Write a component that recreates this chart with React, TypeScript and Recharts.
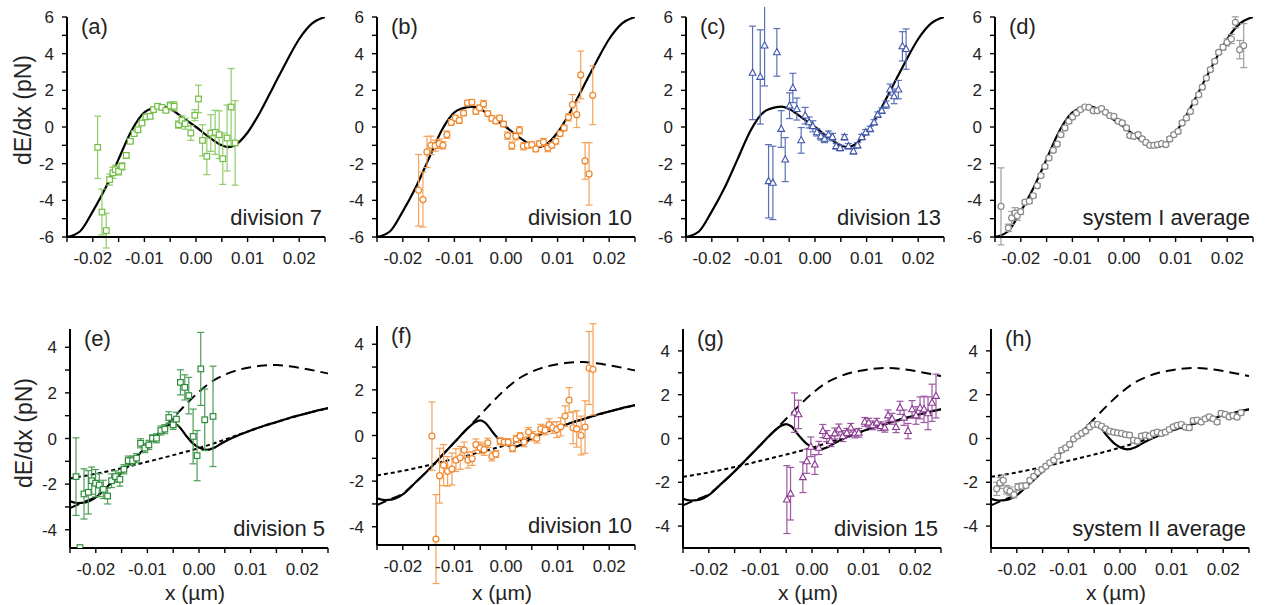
import { ComposedChart, Line, Scatter, XAxis, YAxis, ErrorBar } from 'recharts'

type Pt = [number, number, number]
type Cv = [number, number]

const FONT = '"Liberation Sans", Arial, Helvetica, sans-serif'

const xTicks = [-0.025, -0.02, -0.015, -0.01, -0.005, 0, 0.005, 0.01, 0.015, 0.02, 0.025]
const yTicksTop = [-6, -5, -4, -3, -2, -1, 0, 1, 2, 3, 4, 5, 6]
const yTicksBottom = [-4, -3, -2, -1, 0, 1, 2, 3, 4]

// model curves
const fitTop: Cv[] = [
  [-0.025, -6.0], [-0.0225, -5.7], [-0.02, -4.6], [-0.0175, -3.3], [-0.015, -1.75],
  [-0.0125, -0.2], [-0.01, 0.8], [-0.0075, 1.08], [-0.0066, 1.11], [-0.005, 0.98],
  [-0.0025, 0.5], [0, 0], [0.0025, -0.55], [0.005, -1.0], [0.0063, -1.1], [0.0075, -1.0],
  [0.01, -0.3], [0.0125, 0.85], [0.015, 2.2], [0.0175, 3.55], [0.02, 4.8], [0.0225, 5.65],
  [0.025, 6.0],
]

const fitBottom: Cv[] = [
  [-0.025, -2.75], [-0.0235, -2.83], [-0.022, -2.8], [-0.02, -2.58], [-0.0175, -2.05],
  [-0.015, -1.5], [-0.0125, -0.9], [-0.01, -0.3], [-0.0075, 0.3], [-0.006, 0.58],
  [-0.005, 0.66], [-0.004, 0.55], [-0.0025, 0.12], [-0.001, -0.25], [0, -0.4],
  [0.0015, -0.5], [0.003, -0.4], [0.0045, -0.2], [0.0065, 0.03], [0.01, 0.35],
  [0.0125, 0.55], [0.015, 0.72], [0.0175, 0.9], [0.02, 1.05], [0.0225, 1.2], [0.025, 1.33],
]

const longDash: Cv[] = [
  [-0.025, -3.05], [-0.0225, -2.8], [-0.02, -2.55], [-0.0175, -2.05], [-0.015, -1.5],
  [-0.0125, -0.9], [-0.01, -0.3], [-0.0075, 0.3], [-0.005, 0.9], [-0.0025, 1.5], [0, 2.05],
  [0.0025, 2.5], [0.005, 2.8], [0.0075, 3.0], [0.01, 3.12], [0.0125, 3.2], [0.015, 3.22],
  [0.0175, 3.17], [0.02, 3.08], [0.0225, 2.97], [0.025, 2.85],
]

const shortDash: Cv[] = [
  [-0.025, -1.75], [-0.02, -1.55], [-0.015, -1.3], [-0.01, -1.02], [-0.005, -0.73], [0, -0.42],
  [0.005, -0.05], [0.01, 0.35], [0.015, 0.72], [0.02, 1.05], [0.025, 1.33],
]

// measured points: [x, dE/dx, error]
const div7: Pt[] = [
  [-0.01906, -1.11, 1.7], [-0.01823, -4.64, 1.25], [-0.01739, -5.65, 0.95], [-0.01674, -2.87, 0.3],
  [-0.0161, -2.5, 0.3], [-0.01565, -2.33, 0.25], [-0.015, -2.42, 0.2], [-0.01435, -2.15, 0.2],
  [-0.01352, -1.55, 0.15], [-0.01274, -0.78, 0.1], [-0.01197, -0.36, 0.1], [-0.01126, -0.15, 0.1],
  [-0.01048, 0.22, 0.1], [-0.00971, 0.55, 0.1], [-0.0089, 0.58, 0.1], [-0.00823, 0.95, 0.1],
  [-0.00745, 1.13, 0.1], [-0.00661, 1.07, 0.1], [-0.00584, 0.91, 0.1], [-0.005, 1.16, 0.2],
  [-0.00423, 1.13, 0.25], [-0.00339, 0.13, 0.2], [-0.00274, 0.36, 0.25], [-0.0021, 0.18, 0.3],
  [-0.001, -0.33, 0.4], [-0.00023, 0.64, 0.3], [0.00048, 1.53, 0.75], [0.00126, -0.73, 0.85],
  [0.0021, -1.6, 1.0], [0.00287, -0.33, 1.0], [0.00371, -0.29, 1.2], [0.00448, -0.42, 1.3],
  [0.00519, -1.73, 1.4], [0.00603, -0.6, 1.8], [0.00681, 1.09, 2.1], [0.00758, -0.87, 2.3],
]

const div10a: Pt[] = [
  [-0.01694, -3.45, 1.95], [-0.0161, -3.96, 1.5], [-0.01532, -1.36, 0.85], [-0.01455, -1.0, 0.5],
  [-0.01371, -1.02, 0.3], [-0.01294, -0.91, 0.25], [-0.01223, -1.0, 0.2], [-0.01145, -0.42, 0.2],
  [-0.01061, 0.25, 0.15], [-0.00984, 0.49, 0.15], [-0.00906, 0.36, 0.15], [-0.00823, 0.76, 0.15],
  [-0.00745, 1.31, 0.15], [-0.00661, 1.35, 0.15], [-0.00584, 0.85, 0.15], [-0.00513, 1.04, 0.15],
  [-0.00435, 1.25, 0.2], [-0.00352, 0.73, 0.15], [-0.00274, 0.47, 0.15], [-0.00197, 0.33, 0.15],
  [-0.00126, 0.49, 0.15], [-0.00048, 0.16, 0.15], [0.0003, -0.47, 0.2], [0.00113, -1.02, 0.2],
  [0.0019, -0.51, 0.2], [0.00261, -0.18, 0.2], [0.00339, -1.05, 0.2], [0.00416, -1.0, 0.15],
  [0.005, -0.96, 0.15], [0.00577, -1.2, 0.15], [0.00648, -0.91, 0.15], [0.00726, -0.82, 0.2],
  [0.0081, -1.15, 0.2], [0.00887, -1.0, 0.15], [0.00965, -0.78, 0.15], [0.01048, -0.36, 0.15],
  [0.01126, -0.05, 0.15], [0.0121, 0.53, 0.2], [0.01287, 1.22, 0.55], [0.01371, 0.67, 0.7],
  [0.01448, 2.84, 1.3], [0.01532, -1.85, 1.0], [0.0161, -2.56, 1.7], [0.01681, 1.73, 1.6],
]

const div13: Pt[] = [
  [-0.0121, 2.95, 2.55], [-0.01061, 2.73, 2.57], [-0.00977, 4.44, 2.2], [-0.009, -2.96, 2.0],
  [-0.00816, -3.05, 2.0], [-0.00739, 4.07, 1.3], [-0.00655, -0.11, 1.0], [-0.00577, -1.78, 1.2],
  [-0.00494, 1.16, 0.7], [-0.00429, 2.13, 0.8], [-0.00352, 0.98, 0.6], [-0.00268, -0.73, 0.7],
  [-0.0019, 0.62, 0.45], [-0.00113, 0.25, 0.3], [-0.00042, 0.04, 0.3], [0.00035, -0.29, 0.2],
  [0.00113, -0.51, 0.2], [0.00184, -0.65, 0.2], [0.00261, -0.42, 0.2], [0.00339, -0.55, 0.2],
  [0.0041, -1.05, 0.15], [0.00487, -1.15, 0.15], [0.00571, -0.56, 0.15], [0.00648, -1.05, 0.15],
  [0.00745, -1.33, 0.15], [0.00823, -1.0, 0.15], [0.00906, -0.55, 0.15], [0.00984, -0.29, 0.15],
  [0.01068, -0.11, 0.15], [0.01145, 0.25, 0.15], [0.01216, 0.67, 0.15], [0.01294, 0.89, 0.15],
  [0.01377, 1.22, 0.2], [0.01455, 2.04, 0.3], [0.01532, 1.67, 0.4], [0.01616, 2.04, 0.5],
  [0.01694, 4.4, 0.8], [0.01765, 4.25, 1.1],
]

const sys1: Pt[] = [
  [-0.02384, -4.33, 2.1], [-0.02242, -5.5, 0.2], [-0.02177, -4.96, 0.35], [-0.02113, -4.7, 0.3],
  [-0.02068, -4.84, 0.25], [-0.02003, -4.62, 0.15], [-0.01919, -4.1, 0.1], [-0.01835, -4.05, 0.1],
  [-0.01758, -3.75, 0.1], [-0.0168, -3.2, 0.1], [-0.0161, -2.65, 0.1], [-0.01532, -2.15, 0.1],
  [-0.01455, -1.69, 0.1], [-0.01371, -1.27, 0.1], [-0.01294, -0.93, 0.1], [-0.01223, -0.42, 0.1],
  [-0.01145, -0.05, 0.1], [-0.01068, 0.31, 0.1], [-0.00997, 0.55, 0.1], [-0.0092, 0.76, 0.1],
  [-0.00842, 0.95, 0.1], [-0.00758, 1.09, 0.1], [-0.00681, 1.07, 0.1], [-0.00597, 0.89, 0.1],
  [-0.0052, 0.89, 0.1], [-0.00435, 1.0, 0.1], [-0.00358, 0.8, 0.1], [-0.00274, 0.62, 0.1],
  [-0.00197, 0.58, 0.1], [-0.00113, 0.31, 0.1], [-0.00035, 0.22, 0.1], [0.00048, -0.05, 0.1],
  [0.00113, -0.47, 0.1], [0.0019, -0.51, 0.1], [0.00274, -0.42, 0.1], [0.00352, -0.65, 0.1],
  [0.00423, -0.84, 0.1], [0.005, -1.0, 0.1], [0.00577, -1.0, 0.1], [0.00648, -0.96, 0.1],
  [0.00726, -0.91, 0.1], [0.0081, -0.96, 0.1], [0.00887, -0.65, 0.1], [0.00965, -0.42, 0.1],
  [0.01048, -0.24, 0.1], [0.01126, 0.22, 0.1], [0.0121, 0.49, 0.1], [0.01287, 0.85, 0.1],
  [0.01371, 1.35, 0.1], [0.01448, 1.76, 0.1], [0.01519, 2.18, 0.1], [0.01597, 2.67, 0.1],
  [0.01674, 3.13, 0.1], [0.01758, 3.58, 0.1], [0.01835, 4.07, 0.1], [0.01919, 4.35, 0.15],
  [0.01997, 4.62, 0.2], [0.0208, 4.8, 0.25], [0.02158, 5.71, 0.3], [0.02242, 4.22, 0.5],
  [0.0232, 4.44, 1.2],
]

const div5: Pt[] = [
  [-0.02384, -1.67, 1.7], [-0.02307, -4.78, 0], [-0.02229, -2.43, 1.1], [-0.02145, -2.36, 0.95],
  [-0.0208, -1.85, 0.6], [-0.02004, -1.96, 0.6], [-0.01933, -2.04, 0.5], [-0.01855, -2.23, 0.4],
  [-0.01771, -2.52, 0.35], [-0.01694, -1.85, 0.3], [-0.01617, -1.67, 0.25], [-0.01533, -1.79, 0.3],
  [-0.01455, -1.35, 0.2], [-0.01372, -0.97, 0.2], [-0.01288, -0.97, 0.2], [-0.0121, -0.86, 0.2],
  [-0.01133, -0.21, 0.2], [-0.01049, -0.42, 0.2], [-0.00972, -0.28, 0.2], [-0.00901, 0.01, 0.15],
  [-0.00824, 0.01, 0.2], [-0.0074, 0.35, 0.2], [-0.00662, 0.41, 0.2], [-0.00585, 0.92, 0.25],
  [-0.00501, 0.6, 0.2], [-0.00437, 0.85, 0.3], [-0.0036, 2.46, 0.55], [-0.00276, 2.24, 0.55],
  [-0.00198, 1.88, 0.8], [-0.00114, 0.09, 1.2], [-0.00037, -0.75, 1.1], [0.00034, 3.05, 1.6],
  [0.00111, 0.82, 1.35], [0.00272, 0.97, 2.2],
]

const div10b: Pt[] = [
  [-0.01435, -0.03, 1.5], [-0.01358, -4.54, 1.95], [-0.01287, -1.76, 1.2], [-0.0121, -1.3, 0.9],
  [-0.01132, -1.57, 0.65], [-0.01048, -1.47, 0.7], [-0.00971, -1.08, 0.5], [-0.00887, -0.98, 0.5],
  [-0.0081, -0.64, 0.35], [-0.00739, -1.08, 0.35], [-0.00655, -1.01, 0.3], [-0.00584, -0.4, 0.25],
  [-0.005, -0.54, 0.25], [-0.00423, -0.62, 0.25], [-0.00352, -0.32, 0.2], [-0.00274, -0.91, 0.2],
  [-0.00197, -0.81, 0.15], [-0.00113, -0.25, 0.15], [-0.00035, -0.29, 0.15], [0.00042, -0.29, 0.15],
  [0.00126, -0.56, 0.15], [0.00197, -0.15, 0.15], [0.00274, -0.03, 0.15], [0.00352, -0.29, 0.2],
  [0.00435, 0.15, 0.2], [0.00519, -0.03, 0.2], [0.00597, -0.13, 0.2], [0.00674, 0.29, 0.2],
  [0.00758, 0.23, 0.2], [0.00835, 0.48, 0.25], [0.00906, 0.34, 0.25], [0.00984, 0.26, 0.35],
  [0.01061, 0.38, 0.4], [0.01145, 0.85, 0.45], [0.01223, 1.55, 0.55], [0.013, 0.34, 0.7],
  [0.01371, 0.29, 0.8], [0.01455, 0.0, 0.85], [0.01532, 0.37, 1.15], [0.0161, 2.96, 1.6],
  [0.01687, 2.9, 2.0],
]

const div15: Pt[] = [
  [-0.00487, -2.79, 1.55], [-0.00416, -2.52, 1.2], [-0.00339, 1.18, 0.9], [-0.00261, 1.1, 0.65],
  [-0.00177, -1.77, 0.7], [-0.001, -1.04, 0.55], [-0.00023, -0.38, 0.45], [0.00055, -1.19, 0.45],
  [0.00132, -0.43, 0.3], [0.0021, 0.34, 0.3], [0.00287, 0.11, 0.25], [0.00365, -0.12, 0.25],
  [0.00442, 0.23, 0.25], [0.0052, 0.41, 0.25], [0.00597, 0.11, 0.25], [0.00674, 0.26, 0.2],
  [0.00752, 0.49, 0.2], [0.00829, 0.23, 0.2], [0.00906, 0.26, 0.2], [0.01023, 0.76, 0.2],
  [0.011, 0.72, 0.2], [0.01177, 0.6, 0.2], [0.01255, 0.72, 0.2], [0.01332, 0.56, 0.2],
  [0.0141, 0.49, 0.2], [0.01474, 1.05, 0.25], [0.01552, 0.9, 0.25], [0.01629, 0.52, 0.25],
  [0.01706, 1.4, 0.3], [0.01784, 0.95, 0.35], [0.01861, 0.34, 0.35], [0.01939, 1.33, 0.4],
  [0.02016, 1.05, 0.4], [0.02094, 1.4, 0.5], [0.02171, 1.33, 0.6], [0.02248, 1.15, 0.75],
  [0.02326, 1.63, 0.85], [0.02403, 1.94, 1.0],
]

const sys2: Pt[] = [
  [-0.0239, -2.3, 0.3], [-0.02326, -2.03, 0.25], [-0.02262, -1.91, 0.25], [-0.02198, -2.34, 0.2],
  [-0.02133, -2.41, 0.2], [-0.02056, -2.56, 0.15], [-0.01979, -2.21, 0.15], [-0.01902, -2.18, 0.15],
  [-0.01824, -2.15, 0.1], [-0.01747, -1.91, 0.1], [-0.0167, -1.73, 0.1], [-0.01593, -1.54, 0.1],
  [-0.01515, -1.42, 0.1], [-0.01438, -1.27, 0.1], [-0.01361, -1.11, 0.1], [-0.01284, -0.99, 0.1],
  [-0.01207, -0.81, 0.1], [-0.01129, -0.53, 0.1], [-0.01052, -0.43, 0.1], [-0.00975, -0.27, 0.1],
  [-0.00898, -0.02, 0.1], [-0.0082, 0.11, 0.1], [-0.00743, 0.23, 0.1], [-0.00666, 0.34, 0.1],
  [-0.00589, 0.53, 0.1], [-0.00512, 0.64, 0.1], [-0.00434, 0.64, 0.1], [-0.00357, 0.56, 0.1],
  [-0.0028, 0.44, 0.1], [-0.00203, 0.34, 0.1], [-0.00125, 0.29, 0.1], [-0.00048, 0.26, 0.1],
  [0.00029, 0.23, 0.1], [0.00106, 0.18, 0.1], [0.00184, 0.15, 0.1], [0.00261, -0.08, 0.1],
  [0.00338, -0.12, 0.1], [0.00415, 0.11, 0.1], [0.00492, 0.15, 0.1], [0.0057, 0.11, 0.1],
  [0.00647, 0.23, 0.1], [0.00724, 0.29, 0.1], [0.00801, 0.23, 0.1], [0.00878, 0.29, 0.1],
  [0.00956, 0.41, 0.1], [0.01033, 0.53, 0.1], [0.0111, 0.6, 0.1], [0.01187, 0.64, 0.1],
  [0.01264, 0.52, 0.1], [0.01342, 0.49, 0.1], [0.01419, 0.82, 0.1], [0.01496, 0.84, 0.1],
  [0.01573, 0.75, 0.1], [0.0165, 0.9, 0.1], [0.01728, 0.99, 0.1], [0.01805, 0.9, 0.1],
  [0.01882, 0.75, 0.1], [0.01959, 1.15, 0.1], [0.02037, 1.1, 0.1], [0.02114, 0.99, 0.1],
  [0.02191, 1.05, 0.1], [0.02268, 0.98, 0.1], [0.02346, 1.18, 0.1],
]

const toPts = (rows: Pt[]) => rows.map(([x, y, e]) => ({ x, y, e }))
const toCurve = (rows: Cv[]) => rows.map(([x, y]) => ({ x, y }))

const fmtX = (v: number) => {
  const k = Math.round(v * 1000)
  if (k % 10 !== 0 || Math.abs(k) > 20) return ''
  return (k / 1000).toFixed(2)
}
const fmtY = (v: number) => (v % 2 === 0 ? String(v) : '')

type Kind = 'square' | 'circle' | 'triangle'

function Marker({ cx, cy, kind, color }: { cx: number; cy: number; kind: Kind; color: string }) {
  if (cx == null || cy == null) return null
  if (kind === 'square')
    return <rect x={cx - 2.8} y={cy - 2.8} width={5.6} height={5.6} fill="#fff" stroke={color} strokeWidth={1.2} />
  if (kind === 'triangle')
    return (
      <path
        d={`M${cx},${cy - 3.8}L${cx + 3.4},${cy + 2.4}L${cx - 3.4},${cy + 2.4}Z`}
        fill="#fff"
        stroke={color}
        strokeWidth={1.1}
      />
    )
  return <circle cx={cx} cy={cy} r={3} fill="#fff" stroke={color} strokeWidth={1.2} />
}

interface PanelProps {
  left: number
  top: number
  h: number
  bottomRow: boolean
  domain: [number, number]
  points: Pt[]
  kind: Kind
  color: string
  errColor: string
}

const PW = 258

function Panel({ left, top, h, bottomRow, domain, points, kind, color, errColor }: PanelProps) {
  const tickStyle = { fill: '#222', fontSize: 17, fontFamily: FONT }
  const axisLine = { stroke: '#000', strokeWidth: 2 }
  const tickLine = { stroke: '#000', strokeWidth: 1.4 }
  return (
    <div style={{ position: 'absolute', left: left - 60, top: top - 10 }}>
      <ComposedChart
        width={60 + PW + 10}
        height={10 + h + 40}
        margin={{ top: 10, right: 10, bottom: 0, left: 0 }}
      >
        <XAxis
          dataKey="x"
          type="number"
          domain={[-0.025, 0.025]}
          ticks={xTicks}
          interval={0}
          tickFormatter={fmtX}
          allowDataOverflow
          height={40}
          tickSize={5}
          tickMargin={10}
          tick={tickStyle}
          axisLine={axisLine}
          tickLine={tickLine}
        />
        <YAxis
          dataKey="y"
          type="number"
          domain={domain}
          ticks={bottomRow ? yTicksBottom : yTicksTop}
          interval={0}
          tickFormatter={fmtY}
          allowDataOverflow
          width={60}
          tickSize={5}
          tickMargin={8}
          tick={tickStyle}
          axisLine={axisLine}
          tickLine={tickLine}
        />
        {bottomRow && (
          <Line data={toCurve(longDash)} dataKey="y" type="monotone" stroke="#000" strokeWidth={2}
            strokeDasharray="10 6" dot={false} isAnimationActive={false} />
        )}
        {bottomRow && (
          <Line data={toCurve(shortDash)} dataKey="y" type="monotone" stroke="#000" strokeWidth={2}
            strokeDasharray="4 3" dot={false} isAnimationActive={false} />
        )}
        <Line
          data={toCurve(bottomRow ? fitBottom : fitTop)}
          dataKey="y"
          type="monotone"
          stroke="#000"
          strokeWidth={2.2}
          dot={false}
          isAnimationActive={false}
        />
        <Scatter
          data={toPts(points)}
          isAnimationActive={false}
          shape={(p: any) => <Marker cx={p.cx} cy={p.cy} kind={kind} color={color} />}
        >
          <ErrorBar dataKey="e" direction="y" width={3.5} stroke={errColor} strokeWidth={1.2} />
        </Scatter>
      </ComposedChart>
    </div>
  )
}

const panels: (PanelProps & { tag: string; caption: string })[] = [
  { tag: '(a)', caption: 'division 7', left: 67, top: 17, h: 220, bottomRow: false, domain: [-6, 6], points: div7, kind: 'square', color: '#72bd45', errColor: '#8fcc69' },
  { tag: '(b)', caption: 'division 10', left: 377, top: 17, h: 220, bottomRow: false, domain: [-6, 6], points: div10a, kind: 'circle', color: '#f0862a', errColor: '#f4a258' },
  { tag: '(c)', caption: 'division 13', left: 686, top: 17, h: 220, bottomRow: false, domain: [-6, 6], points: div13, kind: 'triangle', color: '#3d55a8', errColor: '#5a6fb8' },
  { tag: '(d)', caption: 'system I average', left: 995, top: 17, h: 220, bottomRow: false, domain: [-6, 6], points: sys1, kind: 'circle', color: '#8a8a8a', errColor: '#9e9e9e' },
  { tag: '(e)', caption: 'division 5', left: 70, top: 329, h: 219, bottomRow: true, domain: [-4.8, 4.8], points: div5, kind: 'square', color: '#2f8c3c', errColor: '#4c9e57' },
  { tag: '(f)', caption: 'division 10', left: 377, top: 326, h: 219, bottomRow: true, domain: [-4.8, 4.8], points: div10b, kind: 'circle', color: '#f0842a', errColor: '#f4a056' },
  { tag: '(g)', caption: 'division 15', left: 683, top: 329, h: 219, bottomRow: true, domain: [-5, 5], points: div15, kind: 'triangle', color: '#8a3891', errColor: '#9c56a2' },
  { tag: '(h)', caption: 'system II average', left: 991, top: 329, h: 219, bottomRow: true, domain: [-5, 5], points: sys2, kind: 'circle', color: '#8a8a8a', errColor: '#9e9e9e' },
]

export default function App() {
  return (
    <div style={{ position: 'absolute', left: 0, top: 0, width: 1265, height: 605, background: '#fff', overflow: 'hidden' }}>
      {panels.map((p) => (
        <Panel key={p.tag} {...p} />
      ))}
      <svg
        width={1265}
        height={605}
        style={{ position: 'absolute', left: 0, top: 0, pointerEvents: 'none' }}
        fontFamily={FONT}
        fill="#222"
      >
        {panels.map((p) => (
          <g key={p.tag}>
            <text x={p.left + 14} y={p.top + 17} fontSize={22}>{p.tag}</text>
            <text x={p.left + PW - 3} y={p.top + p.h - 12} fontSize={22} textAnchor="end">{p.caption}</text>
            {p.bottomRow && (
              <text x={p.left + PW / 2 - 4} y={600} fontSize={21} textAnchor="middle">x (µm)</text>
            )}
          </g>
        ))}
        <text transform="translate(31,110) rotate(-90)" fontSize={23} textAnchor="middle">dE/dx (pN)</text>
        <text transform="translate(32,433) rotate(-90)" fontSize={23} textAnchor="middle">dE/dx (pN)</text>
      </svg>
    </div>
  )
}
